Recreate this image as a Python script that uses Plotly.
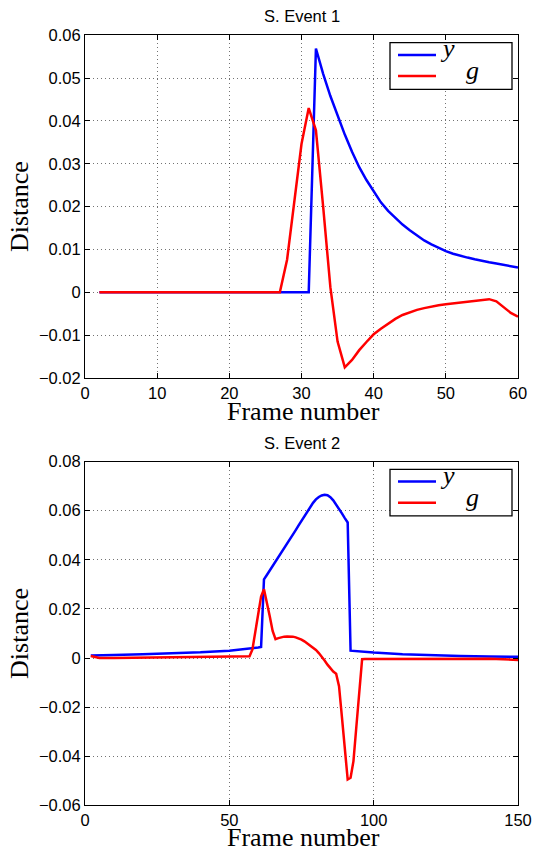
import plotly.graph_objects as go

# ---------------- data: S. Event 1 ----------------
ev1_frames = list(range(2, 61))
ev1_y = [0.0] * 30 + [
    0.0569, 0.0510, 0.0458, 0.0412, 0.0368, 0.0328, 0.0292, 0.0262, 0.0235, 0.0210,
    0.0190, 0.0173, 0.0158, 0.0145, 0.0133, 0.0121, 0.0112, 0.0103, 0.0096, 0.0090,
    0.0085, 0.0081, 0.0077, 0.0073, 0.0070, 0.0067, 0.0064, 0.0061, 0.0058]
ev1_g = [0.0] * 26 + [
    0.0076, 0.0212, 0.0346, 0.0430, 0.0378, 0.0200, 0.0012, -0.0115, -0.0175, -0.0158,
    -0.0135, -0.0116, -0.0098, -0.0085, -0.0073, -0.0062, -0.0053, -0.0047, -0.0041, -0.0037,
    -0.0033, -0.0030, -0.0028, -0.0026, -0.0025, -0.0023, -0.0021, -0.0018, -0.0016, -0.0021,
    -0.0034, -0.0048, -0.0057]

# ---------------- data: S. Event 2 ----------------
ev2_frames = [2, 3, 5, 10, 20, 30, 40, 50, 55, 57] + list(range(58, 98)) + [100, 110, 120, 130, 140, 150]
ev2_y = [0.0010, 0.0010, 0.0011, 0.0012, 0.0015, 0.0018, 0.0023, 0.0030, 0.0035, 0.0037,
         0.0039, 0.0041, 0.0043, 0.0045, 0.0320, 0.0338, 0.0356, 0.0372, 0.0392, 0.0411,
         0.0429, 0.0448, 0.0466, 0.0485, 0.0503, 0.0521, 0.0540, 0.0558, 0.0578, 0.0598,
         0.0616, 0.0632, 0.0646, 0.0656, 0.0662, 0.0665, 0.0663, 0.0655, 0.0642, 0.0626,
         0.0608, 0.0589, 0.0570, 0.0552, 0.0030, 0.0029, 0.0028, 0.0027, 0.0026, 0.0025,
         0.0022, 0.0015, 0.0010, 0.0008, 0.0006, 0.0005]
ev2_g = [0.0008, 0.0005, 0.0000, 0.0000, 0.0001, 0.0002, 0.0003, 0.0005, 0.0006, 0.0007,
         0.0035, 0.0105, 0.0180, 0.0250, 0.0280, 0.0230, 0.0170, 0.0110, 0.0077, 0.0081,
         0.0085, 0.0087, 0.0088, 0.0088, 0.0087, 0.0084, 0.0080, 0.0075, 0.0068, 0.0060,
         0.0051, 0.0042, 0.0033, 0.0020, 0.0006, -0.0010, -0.0027, -0.0042, -0.0055, -0.0064,
         -0.0115, -0.0240, -0.0375, -0.0495, -0.0488, -0.0420, -0.0280, -0.0135, -0.0005, -0.0004,
         -0.0004, -0.0003, -0.0002, -0.0002, -0.0003, -0.0008]

titles = ["S. Event 1", "S. Event 2"]
series_names = ["y", "g"]
x_label = "Frame number"
y_label = "Distance"

W, H = 536, 853
BLUE, RED = "#0000ff", "#ff0000"

def px_x(p):
    return p / W

def px_y(p):
    return 1 - p / H

fig = go.Figure()
fig.add_trace(go.Scatter(x=ev1_frames, y=ev1_y, mode="lines", name=series_names[0],
                         line=dict(color=BLUE, width=2.5), xaxis="x", yaxis="y"))
fig.add_trace(go.Scatter(x=ev1_frames, y=ev1_g, mode="lines", name=series_names[1],
                         line=dict(color=RED, width=2.5), xaxis="x", yaxis="y"))
fig.add_trace(go.Scatter(x=ev2_frames, y=ev2_y, mode="lines", name=series_names[0],
                         line=dict(color=BLUE, width=2.5), xaxis="x2", yaxis="y2"))
fig.add_trace(go.Scatter(x=ev2_frames, y=ev2_g, mode="lines", name=series_names[1],
                         line=dict(color=RED, width=2.5), xaxis="x2", yaxis="y2"))

tickfont = dict(family="Liberation Sans, Arial, sans-serif", size=16.5, color="black")
titlefont = dict(family="Liberation Serif, Times New Roman, serif", size=26, color="black")

common = dict(showline=True, linecolor="black", linewidth=1, mirror="ticks",
              ticks="inside", ticklen=5, tickcolor="black", tickfont=tickfont,
              showgrid=True, gridcolor="rgba(0,0,0,0.55)", gridwidth=1, griddash="1px,3px",
              zeroline=False, automargin=True)

xdom = [px_x(85), px_x(518)]
top_dom = [px_y(378), px_y(35.2)]
bot_dom = [px_y(805.3), px_y(461.6)]

fig.update_layout(
    width=W, height=H,
    margin=dict(l=0, r=0, t=0, b=0, autoexpand=False),
    paper_bgcolor="white", plot_bgcolor="white",
    showlegend=False,
    xaxis=dict(domain=xdom, range=[0, 60], dtick=10, anchor="y", **common),
    yaxis=dict(domain=top_dom, range=[-0.02, 0.06], dtick=0.01, anchor="x",
               title=dict(text=y_label, font=titlefont, standoff=2), **common),
    xaxis2=dict(domain=xdom, range=[0, 150], dtick=50, anchor="y2", **common),
    yaxis2=dict(domain=bot_dom, range=[-0.06, 0.08], dtick=0.02, anchor="x2",
                title=dict(text=y_label, font=titlefont, standoff=2), **common),
)

shapes = []
annotations = []
for title, ty, xt_y, box_top in [(titles[0], 16.2, 411.2, 42.7), (titles[1], 443.2, 837.9, 469.3)]:
    annotations.append(dict(text=title, x=px_x(302), y=px_y(ty), xref="paper", yref="paper",
                            xanchor="center", yanchor="middle", showarrow=False,
                            font=dict(family="Liberation Sans, Arial, sans-serif", size=16.5, color="black")))
    # x-axis title
    annotations.append(dict(text=x_label, x=px_x(303), y=px_y(xt_y), xref="paper", yref="paper",
                            xanchor="center", yanchor="middle", showarrow=False, font=titlefont))
    box_bot = box_top + 46.6
    shapes.append(dict(type="rect", xref="paper", yref="paper",
                       x0=px_x(390), x1=px_x(512), y0=px_y(box_bot), y1=px_y(box_top),
                       line=dict(color="black", width=1.3), fillcolor="white", layer="above"))
    for col, dy in [(BLUE, 12.2), (RED, 33.4)]:
        shapes.append(dict(type="line", xref="paper", yref="paper",
                           x0=px_x(398), x1=px_x(436), y0=px_y(box_top + dy), y1=px_y(box_top + dy),
                           line=dict(color=col, width=2.5), layer="above"))
    annotations.append(dict(text="<i>" + series_names[0] + "</i>", x=px_x(447.5), y=px_y(box_top + 6.2),
                            xref="paper", yref="paper", xanchor="center", yanchor="middle",
                            showarrow=False, font=dict(family="Liberation Serif, serif", size=26, color="black")))
    annotations.append(dict(text="<i>" + series_names[1] + "</i>", x=px_x(472.5), y=px_y(box_top + 28.1),
                            xref="paper", yref="paper", xanchor="center", yanchor="middle",
                            showarrow=False, font=dict(family="Liberation Serif, serif", size=26, color="black")))

fig.update_layout(shapes=shapes, annotations=annotations)
fig.write_html("out.html", config={"displayModeBar": False},
               post_script="document.body.style.margin='0px';document.body.style.padding='0px';")
